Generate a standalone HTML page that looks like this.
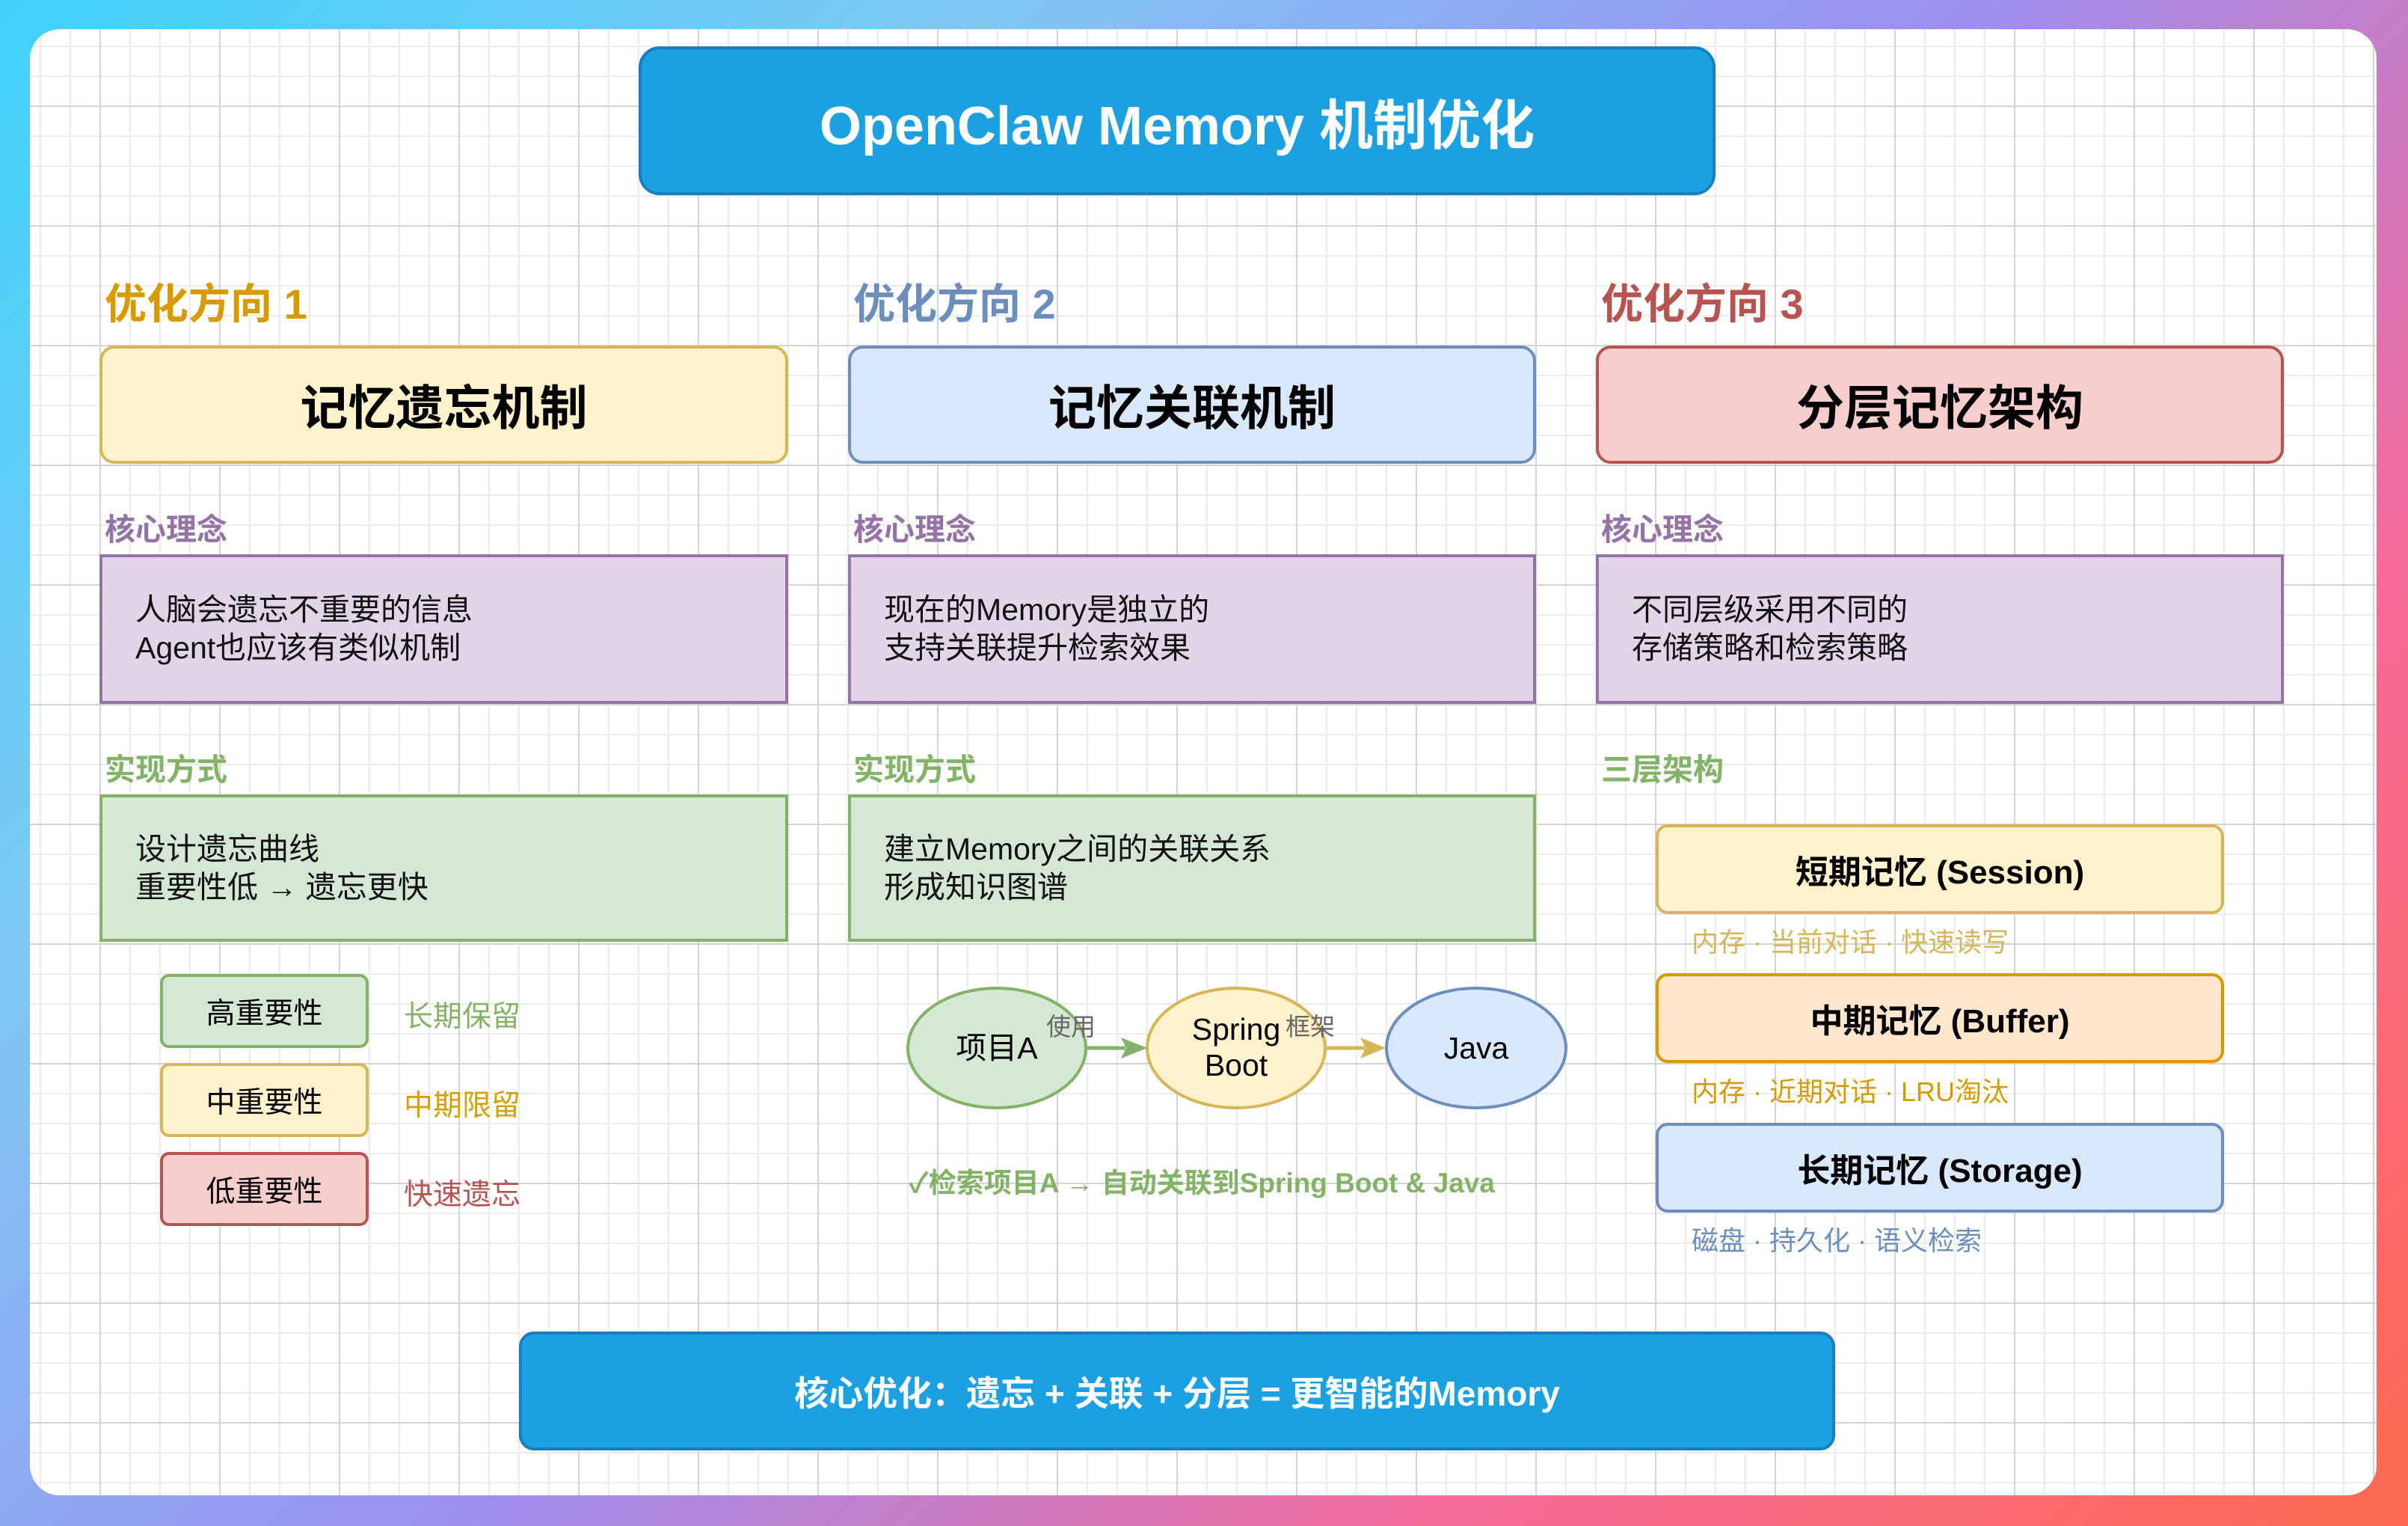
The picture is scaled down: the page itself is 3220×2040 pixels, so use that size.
<!DOCTYPE html>
<html><head><meta charset="utf-8"><style>
*{margin:0;padding:0;box-sizing:border-box}
html,body{width:3220px;height:2040px;overflow:hidden}
body{position:relative;font-family:"Liberation Sans","Noto Sans CJK SC",sans-serif;
background:linear-gradient(135deg,#3fd2fa 0%,#7fc8f4 25%,#9b8ff0 50%,#f56a9a 75%,#ff6a50 100%);}
.card{position:absolute;left:40px;top:39px;width:3138px;height:1960px;border-radius:40px;background-color:#fff;
background-image:linear-gradient(to right,#d4d4d4 2px,transparent 2px),linear-gradient(to bottom,#d4d4d4 2px,transparent 2px),linear-gradient(to right,#ececec 2px,transparent 2px),linear-gradient(to bottom,#ececec 2px,transparent 2px);
background-size:160px 160px,160px 160px,40px 40px,40px 40px;background-position:93px 102px,93px 102px,93px 102px,93px 102px;overflow:hidden}
.a{position:absolute}
.box{position:absolute;display:flex;align-items:center;justify-content:center;border:4px solid}
.h{font-size:56px;font-weight:bold}
.sec{font-size:41px;font-weight:bold}
.txt{font-size:41px;line-height:51px;color:#111;padding-left:44px;justify-content:flex-start}
</style></head><body>
<div class="card"></div>
<div class="box" style="left:854px;top:62px;width:1440px;height:199px;background:#1ba1e2;border-color:#1a7fc0;border-radius:28px;color:#fff;font-size:72px;font-weight:bold">OpenClaw Memory 机制优化</div>

<div class="a h" style="left:140px;top:362px;color:#d79b00">优化方向 1</div>
<div class="a h" style="left:1141px;top:362px;color:#6c8ebf">优化方向 2</div>
<div class="a h" style="left:2141px;top:362px;color:#b85450">优化方向 3</div>

<div class="box" style="left:133px;top:462px;width:921px;height:158px;background:#fff2cc;border-color:#d6b656;border-radius:20px;font-size:64px;font-weight:bold">记忆遗忘机制</div>
<div class="box" style="left:1134px;top:462px;width:920px;height:158px;background:#dae8fc;border-color:#6c8ebf;border-radius:20px;font-size:64px;font-weight:bold">记忆关联机制</div>
<div class="box" style="left:2134px;top:462px;width:920px;height:158px;background:#f8cecc;border-color:#b85450;border-radius:20px;font-size:64px;font-weight:bold">分层记忆架构</div>

<div class="a sec" style="left:140px;top:674px;color:#9673a6">核心理念</div>
<div class="a sec" style="left:1141px;top:674px;color:#9673a6">核心理念</div>
<div class="a sec" style="left:2141px;top:674px;color:#9673a6">核心理念</div>

<div class="box txt" style="left:133px;top:741px;width:921px;height:200px;background:#e1d5e7;border-color:#9673a6"><div>人脑会遗忘不重要的信息<br>Agent也应该有类似机制</div></div>
<div class="box txt" style="left:1134px;top:741px;width:920px;height:200px;background:#e1d5e7;border-color:#9673a6"><div>现在的Memory是独立的<br>支持关联提升检索效果</div></div>
<div class="box txt" style="left:2134px;top:741px;width:920px;height:200px;background:#e1d5e7;border-color:#9673a6"><div>不同层级采用不同的<br>存储策略和检索策略</div></div>

<div class="a sec" style="left:140px;top:995px;color:#82b366">实现方式</div>
<div class="a sec" style="left:1141px;top:995px;color:#82b366">实现方式</div>
<div class="a sec" style="left:2141px;top:995px;color:#82b366">三层架构</div>

<div class="box txt" style="left:133px;top:1062px;width:921px;height:197px;background:#d5e8d4;border-color:#82b366"><div>设计遗忘曲线<br>重要性低 → 遗忘更快</div></div>
<div class="box txt" style="left:1134px;top:1062px;width:920px;height:197px;background:#d5e8d4;border-color:#82b366"><div>建立Memory之间的关联关系<br>形成知识图谱</div></div>

<div class="box" style="left:214px;top:1302px;width:279px;height:99px;background:#d5e8d4;border-color:#82b366;border-radius:12px;font-size:39px">高重要性</div>
<div class="box" style="left:214px;top:1421px;width:279px;height:99px;background:#fff2cc;border-color:#d6b656;border-radius:12px;font-size:39px">中重要性</div>
<div class="box" style="left:214px;top:1540px;width:279px;height:99px;background:#f8cecc;border-color:#b85450;border-radius:12px;font-size:39px">低重要性</div>
<div class="a" style="left:540px;top:1328px;font-size:39px;color:#82b366">长期保留</div>
<div class="a" style="left:540px;top:1447px;font-size:39px;color:#d6a000">中期限留</div>
<div class="a" style="left:540px;top:1566px;font-size:39px;color:#b85450">快速遗忘</div>

<svg class="a" style="left:0;top:0" width="3220" height="2040">
<ellipse cx="1333" cy="1401" rx="119" ry="80" fill="#d5e8d4" stroke="#82b366" stroke-width="4"/>
<ellipse cx="1653" cy="1401" rx="119" ry="80" fill="#fff2cc" stroke="#d6b656" stroke-width="4"/>
<ellipse cx="1974" cy="1401" rx="120" ry="80" fill="#dae8fc" stroke="#6c8ebf" stroke-width="4"/>
<line x1="1452" y1="1401" x2="1505" y2="1401" stroke="#82b366" stroke-width="5"/>
<polygon points="1499,1387 1534,1401 1499,1415 1506,1401" fill="#82b366"/>
<line x1="1772" y1="1401" x2="1825" y2="1401" stroke="#d6b656" stroke-width="5"/>
<polygon points="1819,1387 1853,1401 1819,1415 1826,1401" fill="#d6b656"/>
<g font-family="Liberation Sans,Noto Sans CJK SC,sans-serif" font-size="41" text-anchor="middle">
<text x="1333" y="1415">项目A</text>
<text x="1653" y="1390">Spring</text>
<text x="1653" y="1438">Boot</text>
<text x="1974" y="1415">Java</text>
<text x="1432" y="1384" font-size="33" fill="#666">使用</text>
<text x="1752" y="1384" font-size="33" fill="#666">框架</text>
<text x="1607" y="1594" font-size="37" font-weight="bold" fill="#82b366">✓检索项目A → 自动关联到Spring Boot &amp; Java</text>
</g>
</svg>

<div class="box" style="left:2214px;top:1102px;width:760px;height:120px;background:#fff2cc;border-color:#d6b656;border-radius:16px;font-size:44px;font-weight:bold">短期记忆 (Session)</div>
<div class="box" style="left:2214px;top:1301px;width:760px;height:120px;background:#ffe6cc;border-color:#d79b00;border-radius:16px;font-size:44px;font-weight:bold">中期记忆 (Buffer)</div>
<div class="box" style="left:2214px;top:1501px;width:760px;height:120px;background:#dae8fc;border-color:#6c8ebf;border-radius:16px;font-size:44px;font-weight:bold">长期记忆 (Storage)</div>
<div class="a" style="left:2262px;top:1231px;font-size:36px;color:#d6b656">内存 · 当前对话 · 快速读写</div>
<div class="a" style="left:2262px;top:1431px;font-size:36px;color:#d79b00">内存 · 近期对话 · LRU淘汰</div>
<div class="a" style="left:2262px;top:1630px;font-size:36px;color:#6c8ebf">磁盘 · 持久化 · 语义检索</div>

<div class="box" style="left:694px;top:1780px;width:1760px;height:159px;background:#1ba1e2;border-color:#1a7fc0;border-radius:20px;color:#fff;font-size:46px;font-weight:bold">核心优化：遗忘 + 关联 + 分层 = 更智能的Memory</div>
</body></html>
